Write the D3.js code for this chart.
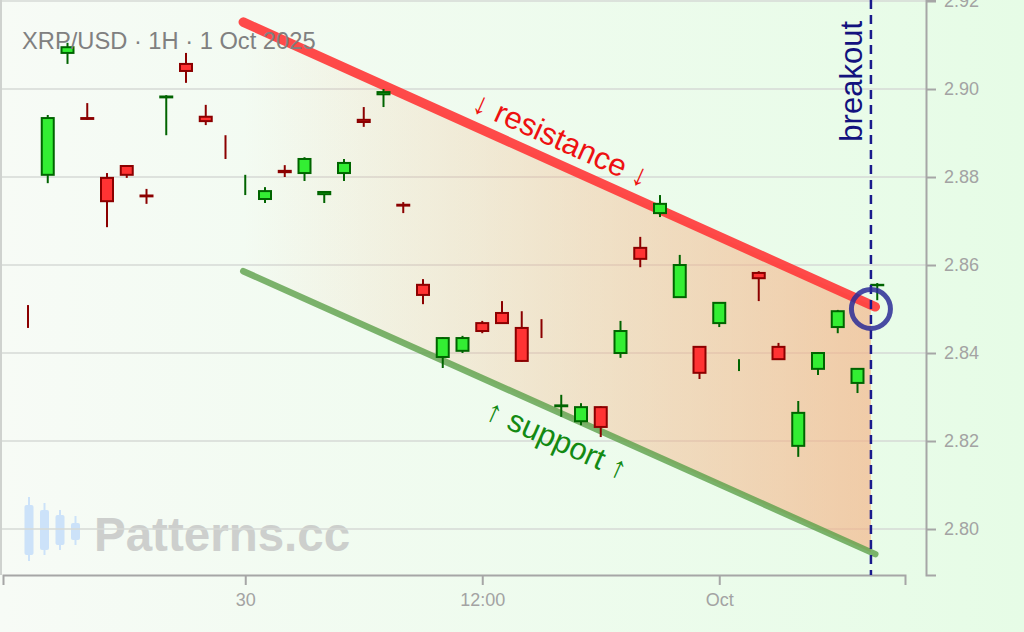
<!DOCTYPE html>
<html>
<head>
<meta charset="utf-8">
<script src="https://cdn.jsdelivr.net/npm/d3@7"></script>
<style>
  html, body { margin: 0; padding: 0; background: #fff; }
  svg { display: block; font-family: "Liberation Sans", Arial, sans-serif; }
  .axis path, .axis line { stroke: #a6a6a6; stroke-width: 2; }
  .axis text { fill: #a3a3a3; font-size: 18px; }
  .grid line { stroke: #d6dad6; stroke-width: 1.5; }
</style>
</head>
<body>
<div id="chart"></div>
<script>
// hourly candles, XRP/USD, starting 29 Sep 13:00
var opens  = [2.84845, 2.8805, 2.9082, 2.8934, 2.8798, 2.8825, 2.8758, 2.8981, 2.9057, 2.8937,
              2.88685, 2.8782, 2.8750, 2.8814, 2.8809, 2.8761, 2.8809, 2.8930, 2.8988, 2.8737,
              2.8555, 2.8391, 2.8405, 2.8468, 2.8491, 2.8457, 2.84575, 2.8279, 2.8245, 2.8277,
              2.8400, 2.8639, 2.8718, 2.8527, 2.8414, 2.8468, 2.8373, 2.8582, 2.8414, 2.8189,
              2.8364, 2.8459, 2.8332, 2.8554];
var highs  = [2.8509, 2.8941, 2.9105, 2.8968, 2.8809, 2.8827, 2.8773, 2.8986, 2.9082, 2.8964,
              2.8895, 2.8805, 2.8777, 2.8827, 2.8845, 2.8768, 2.8841, 2.8959, 2.9000, 2.8743,
              2.8568, 2.8436, 2.8439, 2.8473, 2.8518, 2.8495, 2.8477, 2.8305, 2.8286, 2.8279,
              2.8473, 2.8664, 2.8759, 2.8623, 2.8416, 2.8516, 2.8386, 2.8586, 2.8423, 2.8291,
              2.8402, 2.8498, 2.8366, 2.8559];
var lows   = [2.8457, 2.8786, 2.9057, 2.8930, 2.8686, 2.8798, 2.8739, 2.8895, 2.9014, 2.8918,
              2.8841, 2.8759, 2.8741, 2.8800, 2.8791, 2.8741, 2.8791, 2.8914, 2.8959, 2.8718,
              2.8511, 2.8366, 2.8400, 2.8445, 2.8466, 2.8380, 2.8434, 2.8255, 2.8236, 2.8209,
              2.8389, 2.8595, 2.8709, 2.8525, 2.8341, 2.8459, 2.8359, 2.8518, 2.8385, 2.8164,
              2.8350, 2.8445, 2.8309, 2.8520];
var closes = [2.8484, 2.8934, 2.9095, 2.8932, 2.8745, 2.8805, 2.8756, 2.8983, 2.9041, 2.8927,
              2.8868, 2.87825, 2.8768, 2.8811, 2.8841, 2.8766, 2.8832, 2.8925, 2.8993, 2.8735,
              2.8532, 2.8434, 2.8434, 2.8450, 2.8468, 2.8382, 2.8457, 2.8281, 2.8277, 2.8232,
              2.8450, 2.8614, 2.8739, 2.8600, 2.8355, 2.8514, 2.83735, 2.8570, 2.8386, 2.8264,
              2.8400, 2.8495, 2.8364, 2.8555];

var yTicks = [2.80, 2.82, 2.84, 2.86, 2.88, 2.90, 2.92];
var xTickLabels = ["30", "12:00", "Oct"];
var xTickHours = [11, 23, 35];          // hours after first candle

// channel lines as [hours after first candle, price]
var resistance = [[10.9, 2.9152], [42.9, 2.8505]];
var support = [[10.9, 2.8586], [42.9, 2.7943]];
var breakoutHour = 42.68;
var breakoutPrice = 2.8500;

var W = 1024, H = 632;
var start = new Date(2025, 8, 29, 13);
var hourAt = h => new Date(+start + h * 3600e3);

var candles = opens.map((o, i) => ({
  t: hourAt(i), o: o, h: highs[i], l: lows[i], c: closes[i]
}));

var x = d3.scaleTime()
  .domain([hourAt(-1.266), hourAt(44.405)])
  .range([3, 905]);
var y = d3.scaleLinear()
  .domain([2.78955, 2.92023])
  .range([575, 0]);

var svg = d3.select("#chart").append("svg")
  .attr("width", W).attr("height", H);

var defs = svg.append("defs");
var bg = defs.append("linearGradient").attr("id", "bg")
  .attr("x1", "0").attr("x2", "1").attr("y1", "0").attr("y2", "0");
bg.append("stop").attr("offset", "0").attr("stop-color", "#f7fbf6");
bg.append("stop").attr("offset", "1").attr("stop-color", "#e6fce6");

var chan = defs.append("linearGradient").attr("id", "chan")
  .attr("gradientUnits", "userSpaceOnUse")
  .attr("x1", x(hourAt(resistance[0][0]))).attr("x2", x(hourAt(breakoutHour)))
  .attr("y1", 0).attr("y2", 0);
chan.append("stop").attr("offset", "0").attr("stop-color", "#f5ae80").attr("stop-opacity", 0);
chan.append("stop").attr("offset", "1").attr("stop-color", "#f5ae80").attr("stop-opacity", 0.62);

svg.append("rect").attr("width", W).attr("height", H).attr("fill", "url(#bg)");

// watermark
var wm = svg.append("g").attr("class", "watermark").attr("opacity", 0.9);
var wmCandles = [[497, 505, 555, 561], [503, 510, 550, 555], [510, 515, 545, 550], [516, 523, 540, 545]];
wm.selectAll("g").data(wmCandles).enter().append("g").each(function(d, i) {
  var cx = 29 + i * 15.5;
  var g = d3.select(this);
  g.append("line").attr("x1", cx).attr("x2", cx).attr("y1", d[0]).attr("y2", d[3])
    .attr("stroke", "#c8e0fa").attr("stroke-width", 2);
  g.append("rect").attr("x", cx - 4.5).attr("y", d[1]).attr("width", 9).attr("height", d[2] - d[1])
    .attr("rx", 2).attr("fill", "#c8e0fa");
});
wm.append("text").attr("x", 94).attr("y", 551)
  .attr("font-size", 47.5).attr("font-weight", "bold").attr("fill", "#c9cbc9")
  .text("Patterns.cc");

// grid
svg.append("g").attr("class", "grid")
  .selectAll("line").data(yTicks).enter().append("line")
  .attr("x1", 0).attr("x2", 926)
  .attr("y1", d => y(d)).attr("y2", d => y(d));

svg.append("line").attr("x1", 1).attr("x2", 1).attr("y1", 0).attr("y2", 575)
  .attr("stroke", "#cfd2cf").attr("stroke-width", 2);

// channel fill
var lineAt = (ln, h) => ln[0][1] + (ln[1][1] - ln[0][1]) * (h - ln[0][0]) / (ln[1][0] - ln[0][0]);
var poly = [
  [resistance[0][0], resistance[0][1]],
  [breakoutHour, lineAt(resistance, breakoutHour)],
  [breakoutHour, lineAt(support, breakoutHour)],
  [support[0][0], support[0][1]]
];
svg.append("path")
  .attr("d", d3.line().x(d => x(hourAt(d[0]))).y(d => y(d[1]))(poly) + "Z")
  .attr("fill", "url(#chan)");

// axes
svg.append("g").attr("class", "x axis")
  .attr("transform", "translate(0,575)")
  .call(d3.axisBottom(x)
    .tickValues(xTickHours.map(hourAt))
    .tickFormat((d, i) => xTickLabels[i])
    .tickSize(10).tickSizeOuter(10).tickPadding(8));

svg.append("g").attr("class", "y axis")
  .attr("transform", "translate(926,0)")
  .call(d3.axisRight(y)
    .tickValues(yTicks)
    .tickFormat(d3.format(".2f"))
    .tickSize(10).tickSizeOuter(10).tickPadding(8));

// channel lines
var pl = d3.line().x(d => x(hourAt(d[0]))).y(d => y(d[1]));
svg.append("path").attr("d", pl(support))
  .attr("stroke", "#5da04a").attr("stroke-opacity", 0.8)
  .attr("stroke-width", 6.5).attr("stroke-linecap", "round").attr("fill", "none");
svg.append("path").attr("d", pl(resistance))
  .attr("stroke", "#ff3b3b").attr("stroke-opacity", 0.92)
  .attr("stroke-width", 9.5).attr("stroke-linecap", "round").attr("fill", "none");

// candles
var bodyW = 12;
var cg = svg.append("g").attr("class", "candles")
  .selectAll("g").data(candles).enter().append("g");
cg.append("line")
  .attr("x1", d => x(d.t)).attr("x2", d => x(d.t))
  .attr("y1", d => y(d.h)).attr("y2", d => y(d.l))
  .attr("stroke", d => d.c >= d.o ? "#006400" : "#8b0000")
  .attr("stroke-width", 2);
cg.filter(d => Math.abs(y(d.o) - y(d.c)) >= 0.3)
  .append("rect")
  .attr("x", d => x(d.t) - bodyW / 2)
  .attr("y", d => y(Math.max(d.o, d.c)))
  .attr("width", bodyW)
  .attr("height", d => Math.abs(y(d.o) - y(d.c)))
  .attr("fill", d => d.c >= d.o ? "#33ee33" : "#ff3333")
  .attr("stroke", d => d.c >= d.o ? "#006400" : "#8b0000")
  .attr("stroke-width", 2);

// breakout marker
var bx = x(hourAt(breakoutHour));
svg.append("line").attr("x1", bx).attr("x2", bx).attr("y1", 0).attr("y2", 575)
  .attr("stroke", "#1a1a8c").attr("stroke-width", 2.5).attr("stroke-dasharray", "9,6");
svg.append("text")
  .attr("transform", `translate(${bx - 9},21) rotate(-90)`)
  .attr("text-anchor", "end")
  .attr("font-size", 31).attr("fill", "#12127e")
  .text("breakout");
svg.append("circle").attr("cx", bx).attr("cy", y(breakoutPrice)).attr("r", 19.5)
  .attr("fill", "none").attr("stroke", "#2b2b96").attr("stroke-opacity", 0.85)
  .attr("stroke-width", 5);

// channel labels
function lineLabel(ln, h, txt, color, dy) {
  var x0 = x(hourAt(ln[0][0])), y0 = y(ln[0][1]);
  var x1 = x(hourAt(ln[1][0])), y1 = y(ln[1][1]);
  var ang = Math.atan2(y1 - y0, x1 - x0) * 180 / Math.PI;
  svg.append("text")
    .attr("transform", `translate(${x(hourAt(h))},${y(lineAt(ln, h))}) rotate(${ang})`)
    .attr("text-anchor", "middle").attr("dy", dy)
    .attr("font-size", 31).attr("fill", color)
    .text(txt);
}
lineLabel(resistance, 26.5, "\u2193 resistance \u2193", "#ee1111", -13);
lineLabel(support, 27.3, "\u2191 support \u2191", "#138a13", 36);

// title
svg.append("text").attr("x", 22).attr("y", 49)
  .attr("font-size", 23.7).attr("fill", "#808080")
  .text("XRP/USD \u00b7 1H \u00b7 1 Oct 2025");
</script>
</body>
</html>
